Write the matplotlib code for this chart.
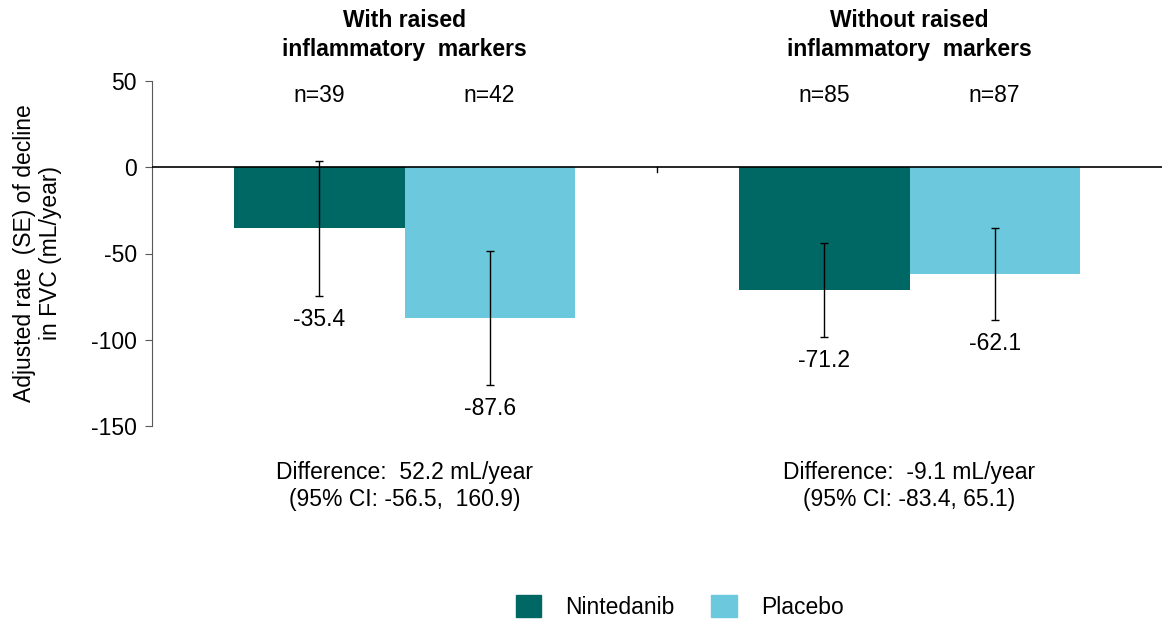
import numpy as np
import matplotlib
matplotlib.use('Agg')
import matplotlib.pyplot as plt
from matplotlib.patches import Patch

plt.rcParams['font.family'] = ['Liberation Sans', 'DejaVu Sans']
plt.rcParams['axes.unicode_minus'] = False

groups = ['With raised\ninflammatory  markers', 'Without raised\ninflammatory  markers']
treatments = ['Nintedanib', 'Placebo']
nintedanib = [-35.4, -71.2]
placebo = [-87.6, -62.1]
nintedanib_se = [39.3, 27.2]
placebo_se = [38.8, 26.6]
n_nint = [39, 85]
n_plac = [42, 87]
differences = ['Difference:  52.2 mL/year\n(95% CI: -56.5,  160.9)',
               'Difference:  -9.1 mL/year\n(95% CI: -83.4, 65.1)']

col_nint = '#006864'
col_plac = '#6CC8DC'
fs = 16.5

fig = plt.figure(figsize=(11.62, 6.21), dpi=100)
ax = fig.add_axes([152/1162, 1 - 426/621, 1010/1162, 345/621])

x = np.arange(len(groups))
w = 0.337
xn = x - w/2
xp = x + w/2

ax.bar(xn, nintedanib, width=w, color=col_nint, zorder=2)
ax.bar(xp, placebo, width=w, color=col_plac, zorder=2)
ax.errorbar(xn, nintedanib, yerr=nintedanib_se, fmt='none', ecolor='black',
            elinewidth=1, capsize=3, capthick=1, zorder=3)
ax.errorbar(xp, placebo, yerr=placebo_se, fmt='none', ecolor='black',
            elinewidth=1, capsize=3, capthick=1, zorder=3)

ax.axhline(0, color='black', linewidth=1.2, zorder=4)
ax.plot([0.5, 0.5], [0, -3], color='black', linewidth=1, zorder=4)

ax.set_xlim(-0.5, 1.5)
ax.set_ylim(-150, 50)
ax.set_yticks([50, 0, -50, -100, -150])
ax.set_xticks([])
for s in ['top', 'right', 'bottom']:
    ax.spines[s].set_visible(False)
ax.spines['left'].set_color('#595959')
ax.tick_params(axis='y', labelsize=fs, length=5, color='#595959', pad=6)
ax.set_ylabel('Adjusted rate  (SE) of decline\nin FVC (mL/year)', fontsize=fs,
              labelpad=21, linespacing=1.15)

for xs, vals, ses, ns in [(xn, nintedanib, nintedanib_se, n_nint),
                          (xp, placebo, placebo_se, n_plac)]:
    for xi, v, se, n in zip(xs, vals, ses, ns):
        ax.annotate(f'{v:.1f}', (xi, v - se), xytext=(0, -17), textcoords='offset points',
                    ha='center', va='center', fontsize=fs)
        ax.annotate(f'n={n}', (xi, 1 - 95/621), xycoords=('data', 'figure fraction'),
                    ha='center', va='center', fontsize=fs)

for xi, g, d in zip(x, groups, differences):
    ax.annotate(g, (xi, 1 - 35/621), xycoords=('data', 'figure fraction'),
                ha='center', va='center', fontsize=fs, fontweight='bold', linespacing=1.28)
    ax.annotate(d, (xi, 1 - 486/621), xycoords=('data', 'figure fraction'),
                ha='center', va='center', fontsize=fs, linespacing=1.2)

handles = [Patch(color=col_nint, label=treatments[0]),
           Patch(color=col_plac, label=treatments[1])]
fig.legend(handles=handles, loc='center', bbox_to_anchor=(0.585, 1 - 607/621), ncol=2,
           frameon=False, fontsize=fs, handlelength=1.1, handleheight=1.1,
           columnspacing=1.6, handletextpad=1.05)

plt.savefig('out.png', dpi=100)
